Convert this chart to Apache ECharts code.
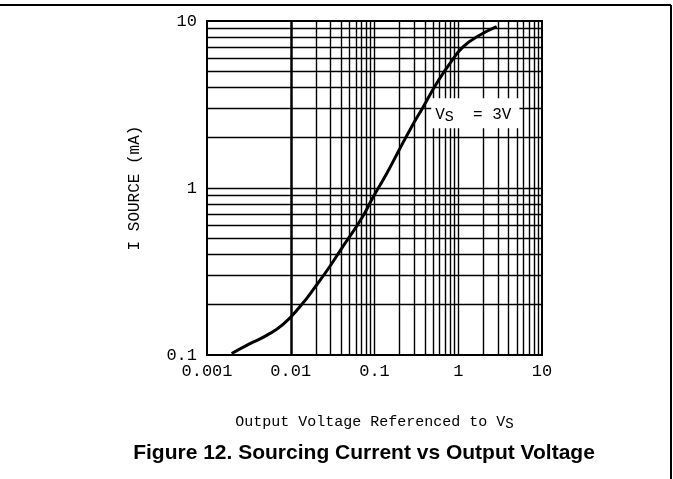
<!DOCTYPE html>
<html>
<head>
<meta charset="utf-8">
<script src="https://cdn.jsdelivr.net/npm/echarts@6/dist/echarts.min.js"></script>
<style>
html,body{margin:0;padding:0;background:#fff;}
#chart{width:673px;height:479px;}
</style>
</head>
<body>
<div id="chart"></div>
<script>
// ---- data ----
const outputVoltage = [0.00197, 0.00326, 0.00516, 0.00815, 0.0129, 0.0195, 0.0294, 0.0424, 0.0703, 0.0968, 0.140, 0.192, 0.278, 0.383, 0.553, 0.796, 1.15, 1.82, 2.88];
const sourceCurrent = [0.102, 0.117, 0.131, 0.153, 0.195, 0.255, 0.340, 0.450, 0.659, 0.887, 1.22, 1.65, 2.33, 3.07, 4.24, 5.58, 7.02, 8.24, 9.25];
const xTickLabels = ['0.001', '0.01', '0.1', '1', '10'];
const yTickLabels = ['0.1', '1', '10'];
const xDecades = [0.001, 0.01, 0.1, 1];
const yDecades = [0.1, 1];
const gridMultipliers = [1, 2, 3, 4, 5, 6, 7, 8, 9];
const annotationPoint = [1.6, 2.8];
const annotationText = ['V', 'S', '  = 3V'];
const xAxisTitle = ['Output Voltage Referenced to V', 'S'];
const yAxisTitle = 'I SOURCE (mA)';
const figureTitle = 'Figure 12. Sourcing Current vs Output Voltage';

const curve = outputVoltage.map((x, i) => [x, sourceCurrent[i]]);

const gridLines = [];
xDecades.forEach(d => gridMultipliers.forEach(m => { const v = +(d * m).toPrecision(3); if (v > 0.001) gridLines.push({ xAxis: v }); }));
yDecades.forEach(d => gridMultipliers.forEach(m => { const v = +(d * m).toPrecision(3); if (v > 0.1) gridLines.push({ yAxis: v }); }));

const mono = 'Liberation Mono';
const fmt = v => {
  const all = xTickLabels.concat(yTickLabels);
  for (const s of all) { if (Math.abs(parseFloat(s) - v) / v < 1e-6) return s; }
  return '';
};

const chart = echarts.init(document.getElementById('chart'), null, { renderer: 'canvas' });
chart.setOption({
  animation: false,
  backgroundColor: '#fff',
  grid: { left: 207, top: 21, width: 335, height: 334, show: true, borderColor: '#000', borderWidth: 2, backgroundColor: 'transparent', z: 5 },
  xAxis: {
    type: 'log', logBase: 10, min: 0.001, max: 10,
    axisLine: { show: false }, axisTick: { show: false }, splitLine: { show: false },
    axisLabel: { color: '#000', fontFamily: mono, fontSize: 17, margin: 8, formatter: fmt },
    name: xAxisTitle[0] + '{sub|' + xAxisTitle[1] + '}',
    nameLocation: 'middle', nameGap: 58,
    nameTextStyle: {
      color: '#000', fontFamily: mono, fontSize: 15, lineHeight: 18,
      rich: { sub: { fontFamily: mono, fontSize: 14, color: '#000', padding: [9, 0, 0, 0], verticalAlign: 'bottom' } }
    }
  },
  yAxis: {
    type: 'log', logBase: 10, min: 0.1, max: 10,
    axisLine: { show: false }, axisTick: { show: false }, splitLine: { show: false },
    axisLabel: { color: '#000', fontFamily: mono, fontSize: 17, margin: 10, formatter: fmt },
    name: yAxisTitle, nameLocation: 'middle', nameGap: 64, nameRotate: 90,
    nameTextStyle: { color: '#000', fontFamily: mono, fontSize: 16 }
  },
  graphic: [
    { id: 'frameTop', type: 'line', shape: { x1: 0, y1: 5, x2: 671, y2: 5 }, style: { stroke: '#000', lineWidth: 2 }, z: 100 },
    { id: 'frameRight', type: 'line', shape: { x1: 671, y1: 5, x2: 671, y2: 479 }, style: { stroke: '#000', lineWidth: 2 }, z: 100 },
    { id: 'title', type: 'text', x: 364, y: 453, style: { text: figureTitle, fill: '#000', font: 'bold 21px "Liberation Sans", Arial, sans-serif', textAlign: 'center', textVerticalAlign: 'middle' }, z: 100 }
  ],
  series: [
    {
      type: 'line', data: [], silent: true, z: 1,
      markLine: {
        silent: true, z: 1, symbol: ['none', 'none'], label: { show: false },
        lineStyle: { color: '#000', width: 1.4, type: 'solid' },
        emphasis: { disabled: true },
        data: gridLines
      }
    },
    {
      type: 'line', data: curve, smooth: 0.5, showSymbol: false, z: 9,
      lineStyle: { color: '#000', width: 3 }, silent: true
    }
  ]
});

const p = chart.convertToPixel({ gridIndex: 0 }, annotationPoint);
chart.setOption({
  graphic: [{
    id: 'vsLabel', type: 'text', x: p[0], y: p[1], z: 50,
    style: {
      text: annotationText[0] + '{sub|' + annotationText[1] + '}' + annotationText[2],
      fill: '#000', fontFamily: mono, fontSize: 16, lineHeight: 20,
      align: 'center', verticalAlign: 'middle',
      backgroundColor: '#fff', padding: [6, 8, 4, 4],
      rich: { sub: { fontFamily: mono, fontSize: 15, fill: '#000', padding: [10, 0, 0, 0], verticalAlign: 'bottom' } }
    }
  }]
});
</script>
</body>
</html>
